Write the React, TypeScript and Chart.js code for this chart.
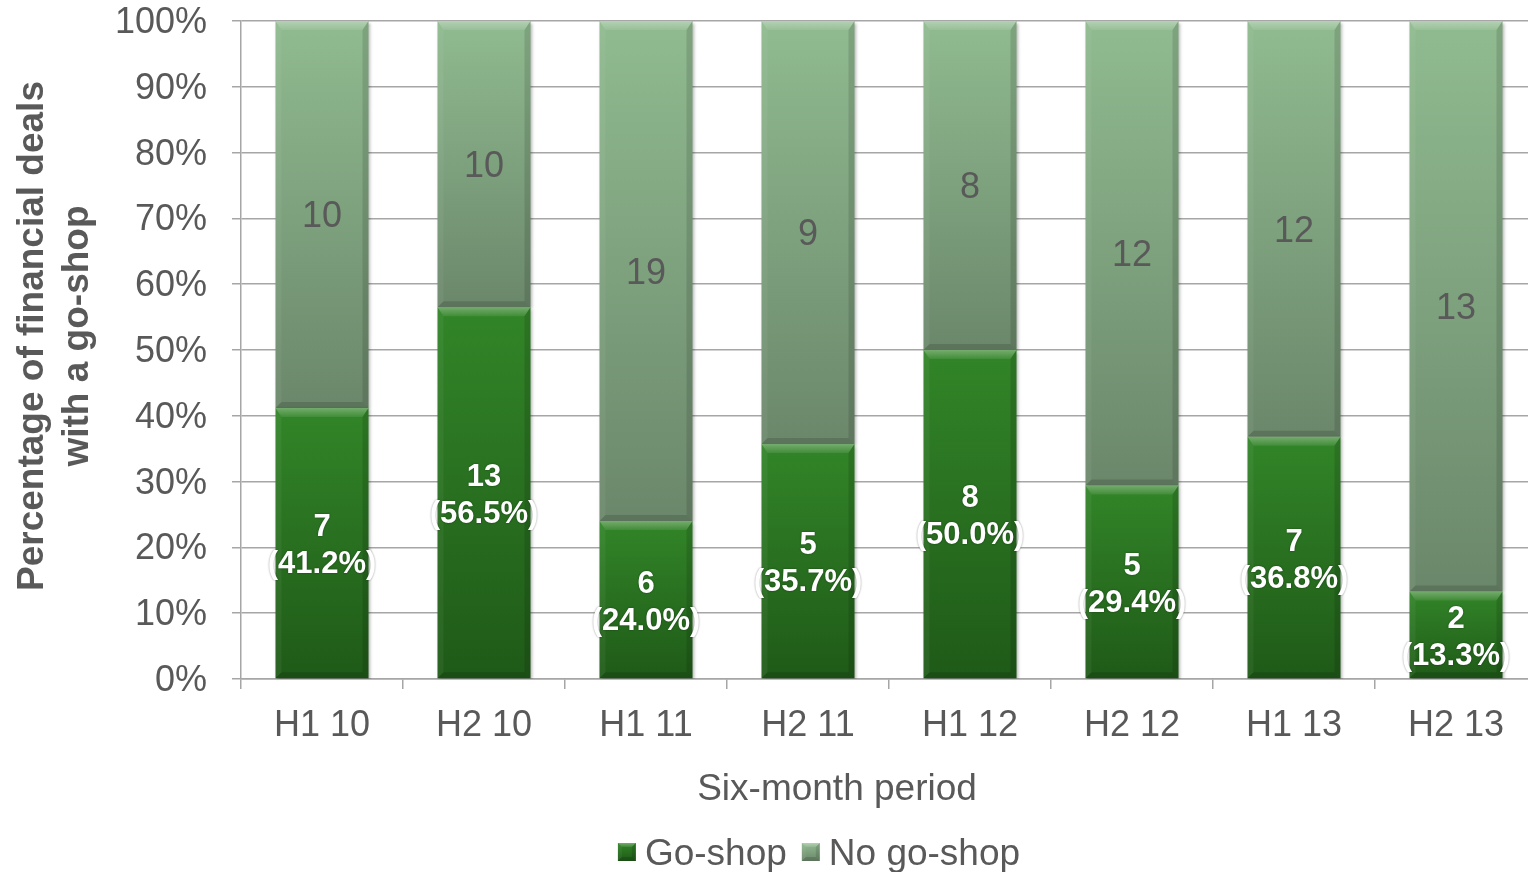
import { useEffect, useRef } from 'react';
import { Chart, registerables } from 'chart.js';

Chart.register(...registerables);

// Deal counts per six-month period
const periods = ['H1 10', 'H2 10', 'H1 11', 'H2 11', 'H1 12', 'H2 12', 'H1 13', 'H2 13'];
const goShopCounts = [7, 13, 6, 5, 8, 5, 7, 2];
const noGoShopCounts = [10, 10, 19, 9, 8, 12, 12, 13];
// Share of deals with a go-shop (%)
const goShopPct = [41.2, 56.5, 24.0, 35.7, 50.0, 29.4, 36.8, 13.3];
const noGoShopPct = goShopPct.map((p) => 100 - p);
const zeros = goShopPct.map(() => 0);
const hundreds = goShopPct.map(() => 100);

const seriesNames = ['Go-shop', 'No go-shop'];
const yTitleLines = ['Percentage of financial deals', 'with a go-shop'];
const xTitle = 'Six-month period';

const FONT = '"Liberation Sans", Arial, Helvetica, sans-serif';
const TEXT = '#595959';
const GRID = '#a6a6a6';
const GO_LIGHT = '#328528';
const GO_DARK = '#1f5a18';
const NO_LIGHT = '#90bb90';
const NO_DARK = '#6b876b';

// The plot runs slightly past the visible right edge
const CANVAS_W = 1537;
const VIEW_W = 1528;
const VIEW_H = 872;

function segmentFill(top: number[], bottom: number[], light: string, dark: string) {
  return (c: any) => {
    const chart = c.chart;
    const ys = chart.scales && chart.scales.y;
    if (c.type !== 'data' || !ys || !chart.chartArea) return light;
    const i = c.dataIndex;
    const yt = ys.getPixelForValue(top[i]);
    const yb = ys.getPixelForValue(bottom[i]);
    if (!isFinite(yt) || !isFinite(yb) || yt === yb) return light;
    const g = chart.ctx.createLinearGradient(0, yt, 0, yb);
    g.addColorStop(0, light);
    g.addColorStop(1, dark);
    return g;
  };
}

function poly(ctx: CanvasRenderingContext2D, pts: number[][]) {
  ctx.beginPath();
  ctx.moveTo(pts[0][0], pts[0][1]);
  for (let i = 1; i < pts.length; i++) ctx.lineTo(pts[i][0], pts[i][1]);
  ctx.closePath();
  ctx.fill();
}

function bevel(ctx: CanvasRenderingContext2D, l: number, t: number, r: number, b: number, st: number, ss: number) {
  const h = b - t;
  st = Math.min(st, h / 2);
  const sb = Math.min(ss, h / 2);
  ctx.save();
  const tg = ctx.createLinearGradient(0, t, 0, t + st);
  tg.addColorStop(0, 'rgba(255,255,255,0.32)');
  tg.addColorStop(1, 'rgba(255,255,255,0.08)');
  ctx.fillStyle = tg;
  poly(ctx, [[l, t], [r, t], [r - ss, t + st], [l + ss, t + st]]);
  ctx.fillStyle = 'rgba(255,255,255,0.05)';
  poly(ctx, [[l, t], [l + ss, t + st], [l + ss, b - sb], [l, b]]);
  ctx.fillStyle = 'rgba(0,0,0,0.12)';
  poly(ctx, [[r, t], [r, b], [r - ss, b - sb], [r - ss, t + st]]);
  ctx.fillStyle = 'rgba(0,0,0,0.14)';
  poly(ctx, [[l, b], [r, b], [r - ss, b - sb], [l + ss, b - sb]]);
  ctx.restore();
}

// small downward nudge so text sits where the glyphs visually centre
const TEXT_NUDGE = 3;

const decorPlugin = {
  id: 'decor',
  beforeDatasetDraw(chart: any) {
    const ctx = chart.ctx;
    ctx.save();
    ctx.shadowColor = 'rgba(0,0,0,0.3)';
    ctx.shadowBlur = 3;
    ctx.shadowOffsetX = 1.5;
    ctx.shadowOffsetY = 1.5;
  },
  afterDatasetDraw(chart: any) {
    chart.ctx.restore();
  },
  afterDatasetsDraw(chart: any) {
    const ctx: CanvasRenderingContext2D = chart.ctx;
    // bevel on each bar segment
    chart.data.datasets.forEach((_: any, di: number) => {
      chart.getDatasetMeta(di).data.forEach((el: any) => {
        const { x, y, base, width } = el.getProps(['x', 'y', 'base', 'width'], true);
        const l = x - width / 2;
        const r = x + width / 2;
        bevel(ctx, l, Math.min(y, base), r, Math.max(y, base), 9, 6);
      });
    });

    // go-shop labels: count and share
    chart.getDatasetMeta(0).data.forEach((el: any, i: number) => {
      const { x, y, base } = el.getProps(['x', 'y', 'base'], true);
      const cy = (y + base) / 2 + TEXT_NUDGE;
      ctx.save();
      ctx.font = `bold 31px ${FONT}`;
      ctx.fillStyle = '#ffffff';
      ctx.textAlign = 'center';
      ctx.textBaseline = 'middle';
      ctx.shadowColor = 'rgba(0,0,0,0.45)';
      ctx.shadowBlur = 2;
      ctx.fillText(String(goShopCounts[i]), x, cy - 18.5);
      ctx.fillText(`(${goShopPct[i].toFixed(1)}%)`, x, cy + 18.5);
      ctx.restore();
    });

    // no go-shop labels: count
    chart.getDatasetMeta(1).data.forEach((el: any, i: number) => {
      const { x, y, base } = el.getProps(['x', 'y', 'base'], true);
      const cy = (y + base) / 2 + TEXT_NUDGE;
      ctx.save();
      ctx.font = `36px ${FONT}`;
      ctx.fillStyle = TEXT;
      ctx.textAlign = 'center';
      ctx.textBaseline = 'middle';
      ctx.fillText(String(noGoShopCounts[i]), x, cy);
      ctx.restore();
    });
  },
  afterDraw(chart: any) {
    const ctx: CanvasRenderingContext2D = chart.ctx;
    // y-axis title
    ctx.save();
    ctx.font = `bold 37px ${FONT}`;
    ctx.fillStyle = TEXT;
    ctx.textAlign = 'center';
    ctx.textBaseline = 'middle';
    ctx.translate(30 + TEXT_NUDGE, 336);
    ctx.rotate(-Math.PI / 2);
    yTitleLines.forEach((line, i) => ctx.fillText(line, 0, i * 45));
    ctx.restore();

    // x-axis title
    ctx.save();
    ctx.font = `37px ${FONT}`;
    ctx.fillStyle = TEXT;
    ctx.textAlign = 'center';
    ctx.textBaseline = 'middle';
    ctx.fillText(xTitle, 837, 787 + TEXT_NUDGE);
    ctx.restore();

    // legend
    ctx.save();
    ctx.font = `37px ${FONT}`;
    ctx.textBaseline = 'middle';
    ctx.textAlign = 'left';
    const box = 18;
    const gap = 9;
    const spacing = 15;
    const widths = seriesNames.map((n) => ctx.measureText(n).width);
    const total = widths.reduce((a, w) => a + box + gap + w, 0) + spacing;
    let lx = 819 - total / 2;
    const cy = 852;
    const fills = [
      [GO_LIGHT, GO_DARK],
      [NO_LIGHT, NO_DARK],
    ];
    seriesNames.forEach((name, i) => {
      const g = ctx.createLinearGradient(0, cy - box / 2, 0, cy + box / 2);
      g.addColorStop(0, fills[i][0]);
      g.addColorStop(1, fills[i][1]);
      ctx.fillStyle = g;
      ctx.fillRect(lx, cy - box / 2, box, box);
      bevel(ctx, lx, cy - box / 2, lx + box, cy + box / 2, 4, 4);
      ctx.fillStyle = TEXT;
      ctx.fillText(name, lx + box + gap, cy + TEXT_NUDGE);
      lx += box + gap + widths[i] + spacing;
    });
    ctx.restore();
  },
};

export default function App() {
  const ref = useRef<HTMLCanvasElement>(null);

  useEffect(() => {
    if (!ref.current) return;
    const chart = new Chart(ref.current, {
      type: 'bar',
      data: {
        labels: periods,
        datasets: [
          {
            label: seriesNames[0],
            data: goShopPct,
            backgroundColor: segmentFill(goShopPct, zeros, GO_LIGHT, GO_DARK) as any,
            borderWidth: 0,
            barPercentage: 0.574,
            categoryPercentage: 1,
          },
          {
            label: seriesNames[1],
            data: noGoShopPct,
            backgroundColor: segmentFill(hundreds, goShopPct, NO_LIGHT, NO_DARK) as any,
            borderWidth: 0,
            barPercentage: 0.574,
            categoryPercentage: 1,
          },
        ],
      },
      options: {
        animation: false,
        responsive: false,
        devicePixelRatio: 1,
        layout: { padding: { top: 0, right: 0, bottom: 63, left: 0 } },
        plugins: {
          legend: { display: false },
          tooltip: { enabled: false },
        },
        scales: {
          x: {
            stacked: true,
            grid: {
              offset: true,
              drawOnChartArea: false,
              drawTicks: true,
              tickLength: 10,
              color: GRID,
              lineWidth: 1.5,
            },
            border: { color: GRID, width: 1.5 },
            ticks: {
              font: { family: FONT, size: 36 },
              color: TEXT,
              padding: 12 + TEXT_NUDGE,
              maxRotation: 0,
              autoSkip: false,
            },
            afterFit(scale: any) {
              scale.height = 130;
              scale.paddingLeft = 0;
              scale.paddingRight = 0;
            },
          },
          y: {
            stacked: true,
            min: 0,
            max: 100,
            ticks: {
              stepSize: 10,
              callback: (v: any) => `${v}%`,
              font: { family: FONT, size: 36 },
              color: TEXT,
              padding: 25,
              labelOffset: 2,
            },
            grid: { color: GRID, lineWidth: 1.5, tickLength: 9 },
            border: { color: GRID, width: 1.5 },
            afterFit(scale: any) {
              scale.width = 241;
              scale.paddingTop = 21;
              scale.paddingBottom = 0;
            },
          },
        },
      },
      plugins: [decorPlugin],
    });
    return () => chart.destroy();
  }, []);

  return (
    <div style={{ position: 'absolute', left: 0, top: 0, width: VIEW_W, height: VIEW_H, background: '#fff', overflow: 'hidden' }}>
      <canvas ref={ref} width={CANVAS_W} height={VIEW_H} style={{ display: 'block' }} />
    </div>
  );
}
